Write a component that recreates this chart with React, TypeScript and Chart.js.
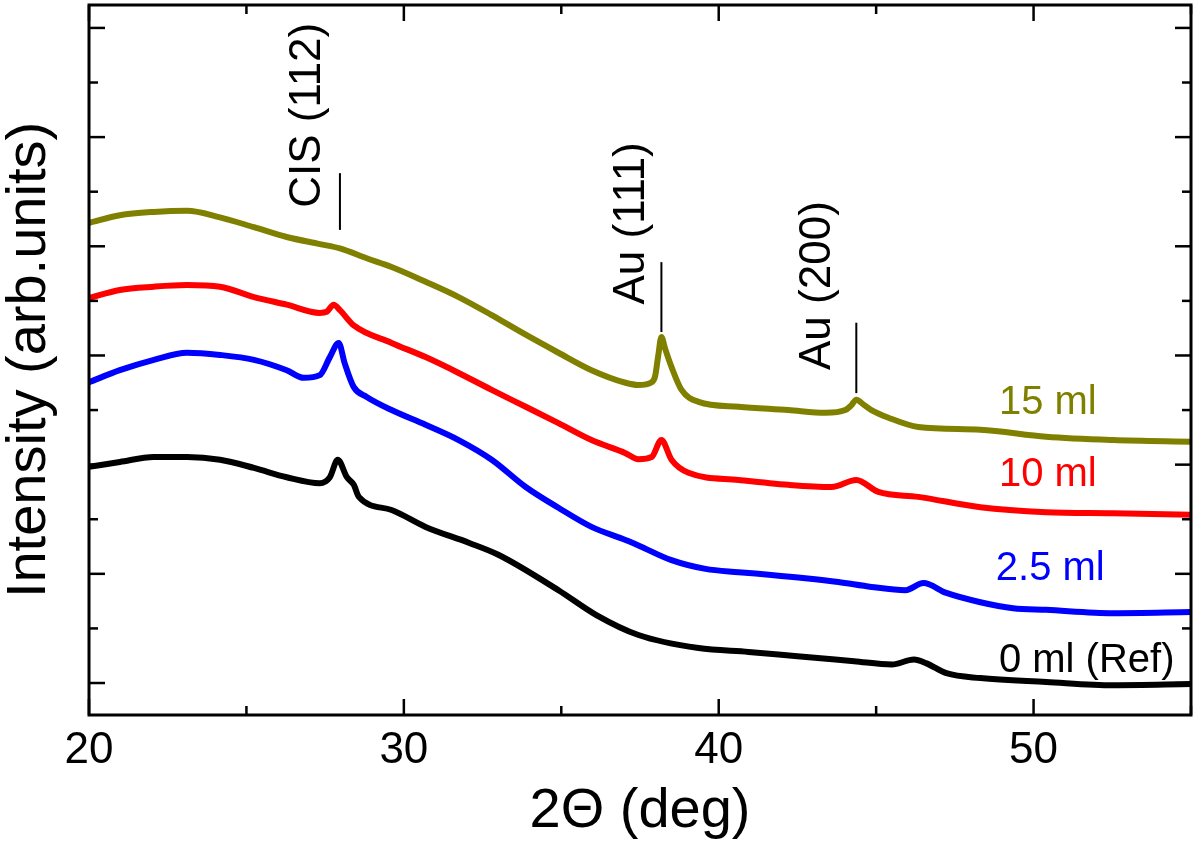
import React, { useEffect, useRef } from "react";
import { Chart, registerables } from "chart.js";

Chart.register(...registerables);

const FONT = "'Liberation Sans', Arial, Helvetica, sans-serif";

// axis ticks
const xTickValues = [20, 25, 30, 35, 40, 45, 50, 55];
const xTickLabels = ["20", "", "30", "", "40", "", "50", ""];
const yTickValues = [0, 1, 2, 3, 4, 5, 6, 7, 8, 9, 10, 11, 12];
const yMajorTicks = [0, 2, 4, 6, 8, 10, 12];

// 15 ml (olive)
const theta15 = [20.0, 20.98, 22.06, 23.11, 24.16, 25.24, 26.28, 27.33, 27.97, 28.82, 29.61, 30.69, 31.74, 32.79, 33.87, 34.91, 35.96, 37.04, 37.45, 37.87, 37.98, 38.08, 38.18, 38.3, 38.5, 38.82, 39.36, 40.63, 42.21, 43.39, 44.02, 44.2, 44.37, 44.6, 44.85, 45.39, 46.34, 48.31, 50.4, 52.53, 55.0];
const int15 = [8.43, 8.57, 8.63, 8.65, 8.53, 8.35, 8.17, 8.04, 7.96, 7.78, 7.62, 7.35, 7.07, 6.74, 6.38, 6.05, 5.73, 5.5, 5.46, 5.51, 5.62, 6.0, 6.34, 6.12, 5.79, 5.37, 5.15, 5.06, 5.0, 4.95, 5.0, 5.08, 5.19, 5.1, 5.0, 4.86, 4.69, 4.64, 4.51, 4.45, 4.42];

// 10 ml (red)
const theta10 = [20.0, 20.98, 22.06, 23.11, 24.16, 25.24, 26.28, 27.33, 27.55, 27.77, 27.97, 28.41, 29.61, 30.69, 31.74, 32.79, 33.87, 34.91, 35.96, 37.04, 37.45, 37.87, 38.18, 38.5, 39.04, 40.63, 42.21, 43.58, 44.37, 45.07, 46.34, 48.31, 50.4, 52.53, 55.0];
const int10 = [7.05, 7.2, 7.26, 7.29, 7.26, 7.07, 6.93, 6.78, 6.8, 6.93, 6.83, 6.55, 6.23, 5.97, 5.68, 5.37, 5.06, 4.76, 4.45, 4.21, 4.1, 4.14, 4.45, 4.09, 3.85, 3.72, 3.63, 3.59, 3.72, 3.5, 3.41, 3.22, 3.13, 3.11, 3.08];

// 2.5 ml (blue)
const theta25 = [20.0, 20.98, 22.06, 23.11, 24.16, 25.24, 26.28, 26.82, 27.33, 27.65, 27.93, 28.12, 28.41, 28.82, 29.61, 30.69, 31.74, 32.79, 33.87, 34.91, 35.96, 37.04, 37.45, 38.5, 39.58, 40.63, 41.67, 42.75, 43.8, 44.85, 45.93, 46.5, 47.23, 48.31, 49.35, 50.4, 52.53, 55.0];
const int25 = [5.51, 5.73, 5.92, 6.05, 6.01, 5.92, 5.73, 5.59, 5.64, 5.97, 6.23, 5.86, 5.42, 5.24, 5.0, 4.73, 4.45, 4.09, 3.59, 3.21, 2.86, 2.62, 2.52, 2.25, 2.09, 2.03, 1.98, 1.92, 1.85, 1.76, 1.7, 1.83, 1.65, 1.48, 1.37, 1.34, 1.28, 1.3];

// 0 ml (Ref) (black)
const theta0 = [20.0, 20.98, 22.06, 23.11, 24.16, 25.24, 26.28, 27.33, 27.65, 27.9, 28.19, 28.41, 28.57, 29.61, 30.69, 32.06, 33.0, 34.91, 36.1, 37.45, 39.36, 40.95, 42.5, 44.3, 45.5, 46.2, 46.6, 47.23, 48.31, 50.4, 52.53, 55.0];
const int0 = [3.96, 4.05, 4.14, 4.14, 4.09, 3.94, 3.77, 3.66, 3.77, 4.09, 3.77, 3.63, 3.41, 3.17, 2.86, 2.57, 2.35, 1.7, 1.25, 0.88, 0.64, 0.57, 0.49, 0.4, 0.34, 0.43, 0.36, 0.18, 0.09, 0.02, -0.04, -0.02];

const seriesNames = ["15 ml", "10 ml", "2.5 ml", "0 ml (Ref)"];
const seriesColors = ["#808000", "#ff0000", "#0000ff", "#000000"];
const seriesLabelX = [48.9, 48.9, 48.8, 48.9];
const seriesLabelY = [5.13, 3.81, 2.09, 0.4];

// peak annotations
const peakNames = ["CIS (112)", "Au (111)", "Au (200)"];
const peakX = [27.97, 38.18, 44.37];
const peakLineTop = [9.34, 7.71, 6.6];
const peakLineBottom = [8.3, 6.43, 5.31];
const peakTextX = [26.95, 37.23, 43.16];
const peakTextY = [10.4, 8.42, 7.28];

const xTitle = "2\u0398 (deg)";
const yTitle = "Intensity (arb.units)";

function pairs(xs: number[], ys: number[]) {
  return xs.map((x, i) => ({ x, y: ys[i] }));
}

const decorPlugin = {
  id: "decor",
  afterDatasetsDraw(chart: any) {
    const { ctx, chartArea: a, scales } = chart;
    const xs = scales.x;
    const ys = scales.y;
    ctx.save();
    ctx.strokeStyle = "#000";
    ctx.lineCap = "butt";
    const seg = (x1: number, y1: number, x2: number, y2: number) => {
      ctx.beginPath();
      ctx.moveTo(x1, y1);
      ctx.lineTo(x2, y2);
      ctx.stroke();
    };
    // inward ticks
    ctx.lineWidth = 2.5;
    xs.ticks.forEach((t: any) => {
      const px = xs.getPixelForValue(t.value);
      const idx = xTickValues.indexOf(t.value);
      const major = idx >= 0 && xTickLabels[idx] !== "";
      const len = major ? 16 : 9;
      seg(px, a.bottom, px, a.bottom - len);
      seg(px, a.top, px, a.top + len);
    });
    ys.ticks.forEach((t: any) => {
      const py = ys.getPixelForValue(t.value);
      const len = yMajorTicks.includes(t.value) ? 16 : 9;
      seg(a.left, py, a.left + len, py);
      seg(a.right, py, a.right - len, py);
    });
    // frame
    ctx.lineWidth = 3;
    ctx.strokeRect(a.left, a.top, a.right - a.left, a.bottom - a.top);

    // peak markers
    ctx.lineWidth = 2;
    ctx.fillStyle = "#000";
    ctx.font = `44px ${FONT}`;
    peakNames.forEach((name, i) => {
      const px = xs.getPixelForValue(peakX[i]);
      seg(px, ys.getPixelForValue(peakLineTop[i]), px, ys.getPixelForValue(peakLineBottom[i]));
      ctx.save();
      ctx.translate(xs.getPixelForValue(peakTextX[i]), ys.getPixelForValue(peakTextY[i]));
      ctx.rotate(-Math.PI / 2);
      ctx.textAlign = "center";
      ctx.textBaseline = "middle";
      ctx.fillText(name, 0, 0);
      ctx.restore();
    });

    // series labels
    ctx.font = `40px ${FONT}`;
    ctx.textAlign = "left";
    ctx.textBaseline = "middle";
    seriesNames.forEach((name, i) => {
      ctx.fillStyle = seriesColors[i];
      ctx.fillText(name, xs.getPixelForValue(seriesLabelX[i]), ys.getPixelForValue(seriesLabelY[i]));
    });
    ctx.restore();
  },
};

export default function App() {
  const canvasRef = useRef<HTMLCanvasElement | null>(null);

  useEffect(() => {
    if (!canvasRef.current) return;
    Chart.defaults.color = "#000";
    const chart = new Chart(canvasRef.current, {
      type: "line",
      data: {
        datasets: [
          { label: seriesNames[0], data: pairs(theta15, int15) },
          { label: seriesNames[1], data: pairs(theta10, int10) },
          { label: seriesNames[2], data: pairs(theta25, int25) },
          { label: seriesNames[3], data: pairs(theta0, int0) },
        ].map((d, i) => ({
          ...d,
          borderColor: seriesColors[i],
          backgroundColor: seriesColors[i],
          borderWidth: 6,
          pointRadius: 0,
          cubicInterpolationMode: "monotone" as const,
          fill: false,
        })),
      },
      options: {
        animation: false,
        responsive: true,
        maintainAspectRatio: false,
        layout: { padding: { top: 5, right: 7, left: 0, bottom: 0 } },
        plugins: { legend: { display: false }, tooltip: { enabled: false } },
        scales: {
          x: {
            type: "linear",
            min: 20,
            max: 55,
            afterBuildTicks: (scale: any) => {
              scale.ticks = xTickValues.map((v) => ({ value: v }));
            },
            afterFit: (scale: any) => {
              scale.height = 132;
            },
            grid: { display: false, drawTicks: false },
            border: { display: false },
            ticks: {
              autoSkip: false,
              maxRotation: 0,
              padding: 9,
              color: "#000",
              font: { family: FONT, size: 44 },
              callback: (v: any) => {
                const i = xTickValues.indexOf(Number(v));
                return i >= 0 ? xTickLabels[i] : "";
              },
            },
            title: {
              display: true,
              text: xTitle,
              color: "#000",
              font: { family: FONT, size: 56, lineHeight: 1 },
              padding: { top: 0, bottom: 7 },
            },
          },
          y: {
            type: "linear",
            min: -0.586,
            max: 12.42,
            afterBuildTicks: (scale: any) => {
              scale.ticks = yTickValues.map((v) => ({ value: v }));
            },
            afterFit: (scale: any) => {
              scale.width = 89;
            },
            grid: { display: false, drawTicks: false },
            border: { display: false },
            ticks: { display: false },
            title: {
              display: true,
              text: yTitle,
              color: "#000",
              font: { family: FONT, size: 56, lineHeight: 1 },
              padding: { top: 2, bottom: 0 },
            },
          },
        },
      },
      plugins: [decorPlugin],
    });
    return () => chart.destroy();
  }, []);

  return (
    <div style={{ position: "fixed", left: 0, top: 0, width: 1200, height: 847, background: "#fff" }}>
      <canvas ref={canvasRef} />
    </div>
  );
}
